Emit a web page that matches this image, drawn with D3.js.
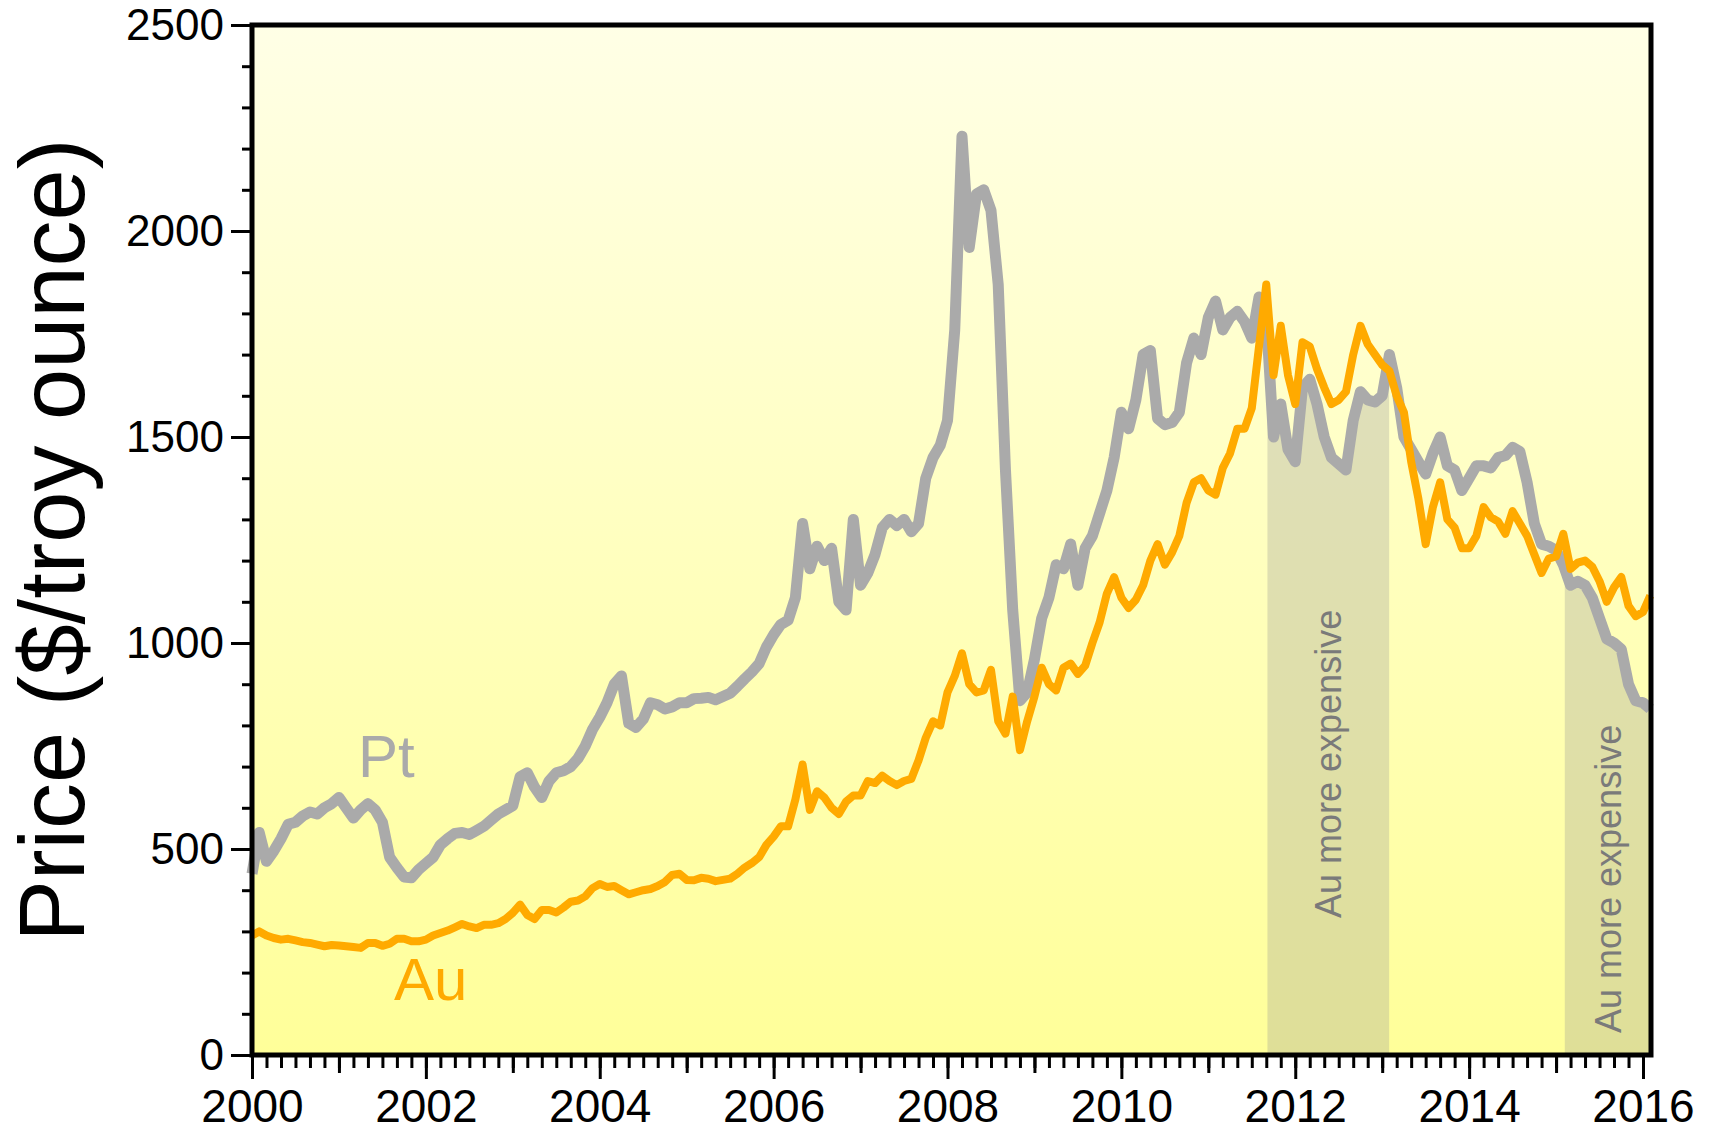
<!DOCTYPE html>
<html>
<head>
<meta charset="utf-8">
<script src="https://cdn.jsdelivr.net/npm/d3@7/dist/d3.min.js"></script>
<style>
body{margin:0;background:#fff;}
text{font-family:"Liberation Sans",Arial,Helvetica,sans-serif;}
</style>
</head>
<body>
<svg id="chart"></svg>
<script>
// one value per month, first value = Jan 2000
var startYear=2000
var ptPrice=[
  440,540,470,495,525,560,565,580,590,585,600,610,
  625,600,575,595,610,595,565,480,455,432,430,450,
  465,480,510,525,538,540,535,545,555,570,585,595,
  605,675,685,650,625,665,685,690,700,720,750,790,
  820,855,900,920,805,795,815,855,850,840,845,855,
  855,865,866,868,862,870,878,895,913,930,950,990,
  1020,1045,1055,1110,1290,1180,1235,1200,1230,1100,1080,1300,
  1140,1170,1215,1280,1300,1285,1300,1270,1290,1400,1450,1480,
  1540,1760,2230,1960,2090,2100,2050,1870,1420,1080,860,880,
  960,1060,1110,1190,1180,1240,1140,1230,1260,1315,1370,1450,
  1560,1520,1590,1700,1710,1545,1530,1535,1560,1680,1740,1700,
  1790,1830,1760,1790,1805,1780,1740,1840,1790,1500,1580,1470,
  1440,1620,1640,1580,1500,1450,1435,1420,1540,1610,1590,1585,
  1600,1700,1620,1500,1470,1440,1410,1460,1500,1430,1420,1370,
  1400,1430,1430,1425,1450,1455,1475,1465,1390,1290,1240,1235,
  1225,1190,1140,1150,1140,1110,1060,1010,1000,985,900,860,
  855,840]
var auPrice=[
  290,300,290,284,280,282,278,274,272,268,264,267,
  266,264,262,260,272,272,265,270,282,282,276,276,
  280,290,296,302,310,318,312,308,316,316,320,330,
  345,365,340,330,352,352,346,358,372,375,385,405,
  415,408,410,400,390,395,400,403,410,420,437,440,
  425,424,430,428,422,425,428,440,455,466,480,510,
  530,555,555,620,705,595,640,625,600,585,615,630,
  630,665,660,678,665,655,665,670,715,770,810,800,
  880,920,975,900,880,885,935,810,780,870,740,810,
  870,940,900,885,940,950,925,945,1000,1050,1120,1160,
  1110,1085,1105,1140,1200,1240,1190,1220,1260,1340,1390,1400,
  1370,1360,1425,1460,1520,1520,1570,1720,1870,1650,1770,1650,
  1580,1730,1720,1665,1620,1580,1590,1610,1700,1770,1725,1700,
  1675,1660,1600,1560,1440,1350,1240,1330,1390,1300,1280,1230,
  1230,1260,1330,1305,1295,1265,1320,1290,1260,1215,1170,1205,
  1210,1265,1180,1195,1200,1185,1150,1100,1135,1160,1090,1065,
  1075,1115]
// periods where gold was priced above platinum
var bandStart=[2011.68,2015.10]
var bandEnd=[2013.08,2016.10]
var bandText="Au more expensive"
var yTicks=[0,500,1000,1500,2000,2500]
var xTicks=[2000,2002,2004,2006,2008,2010,2012,2014,2016]
var yTitle="Price ($/troy ounce)"

var initGraph=function()
    {
        var screen={width:1713,height:1134}
        var margins={left:252,right:62,top:25,bottom:79}
        var graph=
            {
                width:screen.width-margins.left-margins.right,
                height:screen.height-margins.top-margins.bottom
            }
        var svg=d3.select("#chart")
            .attr("width",screen.width)
            .attr("height",screen.height)

        var xScale=d3.scaleLinear()
            .domain([2000,2016.092])
            .range([0,graph.width])
        var yScale=d3.scaleLinear()
            .domain([0,2500])
            .range([graph.height,0])

        var toPoints=function(arr)
            {
                return arr.map(function(v,i){return {t:startYear+i/12,v:v}})
            }
        var pt=toPoints(ptPrice)
        var au=toPoints(auPrice)

        var target=svg.append("g")
            .attr("transform","translate("+margins.left+","+margins.top+")")

        drawBackground(svg,target,graph)
        drawBands(svg,target,pt,graph,xScale,yScale)
        drawLines(target,pt,au,xScale,yScale)
        drawAxes(target,graph,xScale,yScale)
        drawLabels(svg,target,graph,margins,xScale,yScale)
    }

var drawBackground=function(svg,target,graph)
    {
        var grad=svg.append("defs")
            .append("linearGradient")
            .attr("id","bg")
            .attr("x1",0).attr("y1",0).attr("x2",0).attr("y2",1)
        grad.append("stop").attr("offset","0%").attr("stop-color","#ffffe6")
        grad.append("stop").attr("offset","100%").attr("stop-color","#ffff99")
        target.append("rect")
            .attr("width",graph.width)
            .attr("height",graph.height)
            .attr("fill","url(#bg)")
    }

var drawBands=function(svg,target,pt,graph,xScale,yScale)
    {
        var defs=svg.select("defs")
        var area=d3.area()
            .x(function(d){return xScale(d.t)})
            .y0(graph.height)
            .y1(function(d){return yScale(d.v)})
        bandStart.forEach(function(s,i)
            {
                defs.append("clipPath")
                    .attr("id","band"+i)
                    .append("rect")
                    .attr("x",xScale(s))
                    .attr("y",0)
                    .attr("width",Math.min(xScale(bandEnd[i]),graph.width)-xScale(s))
                    .attr("height",graph.height)
                target.append("path")
                    .datum(pt)
                    .attr("d",area)
                    .attr("clip-path","url(#band"+i+")")
                    .attr("fill","rgba(150,150,150,0.3)")
            })
    }

var drawLines=function(target,pt,au,xScale,yScale)
    {
        var line=d3.line()
            .x(function(d){return xScale(d.t)})
            .y(function(d){return yScale(d.v)})
        target.append("path")
            .datum(pt)
            .attr("d",line)
            .attr("fill","none")
            .attr("stroke","#aaaaaa")
            .attr("stroke-width",11)
            .attr("stroke-linejoin","round")
        target.append("path")
            .datum(au)
            .attr("d",line)
            .attr("fill","none")
            .attr("stroke","#ffaa00")
            .attr("stroke-width",8)
            .attr("stroke-linejoin","round")
    }

var drawAxes=function(target,graph,xScale,yScale)
    {
        var style=function(g,size)
            {
                g.select(".domain").remove()
                g.selectAll("line").attr("stroke","#000").attr("stroke-width",3)
                g.selectAll("text")
                    .attr("fill","#000")
                    .style("font-size",size+"px")
                    .style("font-family","'Liberation Sans',Arial,sans-serif")
            }
        // x: minor every 2 months, medium each year, major every 2 years
        var minorX=d3.range(0,97).map(function(i){return 2000+i/6})
        var yearX=d3.range(2001,2016,2)
        target.append("g")
            .attr("transform","translate(0,"+graph.height+")")
            .call(d3.axisBottom(xScale).tickValues(minorX).tickSize(13).tickFormat(""))
            .call(style,46)
        target.append("g")
            .attr("transform","translate(0,"+graph.height+")")
            .call(d3.axisBottom(xScale).tickValues(yearX).tickSize(18).tickFormat(""))
            .call(style,46)
        target.append("g")
            .attr("transform","translate(0,"+graph.height+")")
            .call(d3.axisBottom(xScale).tickValues(xTicks).tickSize(24).tickPadding(10).tickFormat(d3.format("d")))
            .call(style,46)

        var minorY=d3.range(0,2501,100)
        target.append("g")
            .call(d3.axisLeft(yScale).tickValues(minorY).tickSize(10).tickFormat(""))
            .call(style,44)
        target.append("g")
            .call(d3.axisLeft(yScale).tickValues(yTicks).tickSize(21).tickPadding(7).tickFormat(d3.format("d")))
            .call(style,44)

        target.append("rect")
            .attr("width",graph.width)
            .attr("height",graph.height)
            .attr("fill","none")
            .attr("stroke","#000")
            .attr("stroke-width",5)
    }

var drawLabels=function(svg,target,graph,margins,xScale,yScale)
    {
        svg.append("text")
            .text(yTitle)
            .attr("text-anchor","middle")
            .attr("transform","translate(84,"+(margins.top+graph.height/2)+") rotate(-90)")
            .style("font-size","92px")
            .attr("fill","#000")

        target.append("text")
            .text("Pt")
            .attr("x",106)
            .attr("y",752)
            .style("font-size","60px")
            .attr("fill","#aaaaaa")
        target.append("text")
            .text("Au")
            .attr("x",142)
            .attr("y",975)
            .style("font-size","60px")
            .attr("fill","#ffaa00")

        var textBase=[918,1033]
        bandStart.forEach(function(s,i)
            {
                var e=Math.min(bandEnd[i],xScale.domain()[1])
                var cx=margins.left+(xScale(s)+xScale(e))/2
                target.append("text")
                    .text(bandText)
                    .attr("transform","translate("+(cx-margins.left+13)+","+(textBase[i]-margins.top)+") rotate(-90)")
                    .style("font-size","36px")
                    .attr("fill","#7a7a7a")
            })
    }

initGraph()
</script>
</body>
</html>
